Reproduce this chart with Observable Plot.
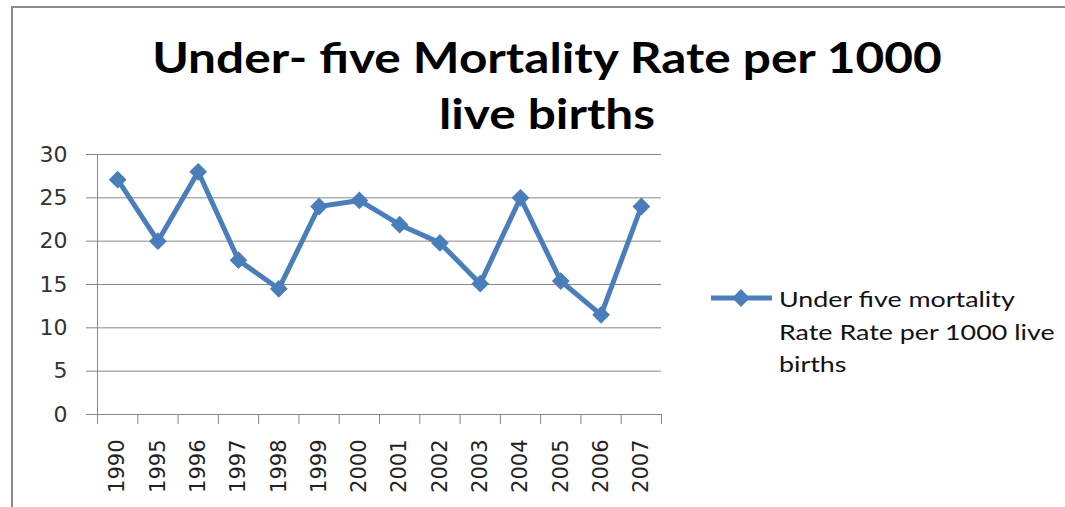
<!DOCTYPE html>
<html>
<head>
<meta charset="utf-8">
<script src="https://cdn.jsdelivr.net/npm/d3@7"></script>
<script src="https://cdn.jsdelivr.net/npm/@observablehq/plot@0.6"></script>
<style>
  html, body { margin: 0; padding: 0; background: #fff; }
  #wrap { position: relative; width: 1065px; height: 507px; overflow: hidden; background: #fff; }
  #border { position: absolute; left: 11px; top: 6px; width: 2000px; height: 2000px;
            border-left: 2px solid #8a8a8a; border-top: 2px solid #8a8a8a; box-sizing: border-box; }
  #title { position: absolute; left: 47px; width: 1000px; top: 29px; text-align: center;
           font-family: Lato, "Open Sans", sans-serif; font-weight: bold; font-size: 42px;
           line-height: 56px; color: #000; transform: scaleX(1.18); transform-origin: 500px 0; }
  #chart { position: absolute; left: 0; top: 0; }
  #legend-swatch { position: absolute; left: 0; top: 0; }
  #legend-text { position: absolute; left: 779px; top: 283px; font-family: Lato, "Open Sans", sans-serif;
                 font-size: 22px; line-height: 32.5px; color: #111; white-space: nowrap;
                 transform: scaleX(1.22); transform-origin: 0 0; }
</style>
</head>
<body>
<div id="wrap">
  <div id="border"></div>
  <div id="title"></div>
  <div id="chart"></div>
  <svg id="legend-swatch" width="1065" height="507"></svg>
  <div id="legend-text"></div>
</div>
<script>
// ---- data ----
const titleLines = ["Under- five Mortality Rate per 1000", "live births"];
const years = ["1990", "1995", "1996", "1997", "1998", "1999", "2000", "2001", "2002", "2003", "2004", "2005", "2006", "2007"];
const rates = [27.1, 20.0, 28.0, 17.8, 14.5, 24.0, 24.7, 21.9, 19.8, 15.1, 25.0, 15.4, 11.5, 24.0];
const yTicks = [0, 5, 10, 15, 20, 25, 30];
const legendLines = ["Under five mortality", "Rate Rate per 1000 live", "births"];

const lineColor = "#4A7EBB";
const gridColor = "#868686";

const data = years.map((year, i) => ({i, year, rate: rates[i]}));
const centers = d3.range(years.length);
const bounds = d3.range(years.length + 1).map(k => k - 0.5);

document.getElementById("title").innerHTML = titleLines.join("<br>");
document.getElementById("legend-text").innerHTML = legendLines.join("<br>");

const chart = Plot.plot({
  width: 1065,
  height: 507,
  marginLeft: 97,
  marginRight: 404,
  marginTop: 154,
  marginBottom: 93,
  style: {background: "transparent", fontFamily: "DejaVu Sans", overflow: "visible"},
  x: {type: "linear", domain: [-0.5, years.length - 0.5], label: null},
  y: {domain: [0, 30], label: null},
  marks: [
    Plot.gridY(yTicks, {stroke: gridColor, strokeOpacity: 1, strokeWidth: 1}),
    Plot.axisY(yTicks, {tickSize: 11, tickPadding: 19, stroke: gridColor, fill: "#333", strokeOpacity: 1,
                        fontSize: 22, label: null}),
    Plot.ruleX([-0.5], {stroke: gridColor, strokeWidth: 1}),
    Plot.axisX(bounds, {tickSize: 10, tickFormat: () => "", stroke: gridColor, strokeOpacity: 1, label: null}),
    Plot.axisX(centers, {tickSize: 0, tickPadding: 25, tickRotate: -90, tickFormat: i => years[i],
                         fontSize: 21, fill: "#222", label: null}),
    Plot.line(data, {x: "i", y: "rate", stroke: lineColor, strokeWidth: 5, strokeLinejoin: "round"}),
    Plot.dot(data, {x: "i", y: "rate", symbol: "diamond2", r: 8, fill: lineColor, stroke: null})
  ]
});
document.getElementById("chart").appendChild(chart);

// legend swatch (line + diamond marker)
const sw = d3.select("#legend-swatch");
sw.append("line").attr("x1", 711).attr("x2", 772).attr("y1", 298).attr("y2", 298)
  .attr("stroke", lineColor).attr("stroke-width", 5);
sw.append("path").attr("d", d3.symbol(d3.symbolDiamond2, Math.PI * 8 * 8)())
  .attr("transform", "translate(741,298)").attr("fill", lineColor);
</script>
</body>
</html>
